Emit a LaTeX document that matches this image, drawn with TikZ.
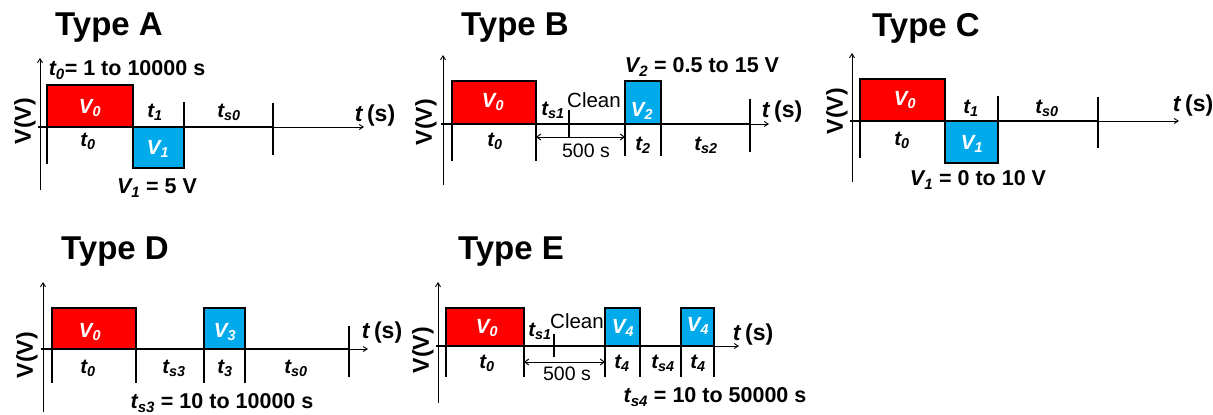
\documentclass[tikz,border=0pt]{standalone}
\usepackage{fontspec}
\setmainfont{Liberation Sans}
\usetikzlibrary{arrows.meta}
\definecolor{vred}{RGB}{255,0,0}
\definecolor{vblue}{RGB}{0,170,235}
\tikzset{
  axis/.style={line width=0.9pt,-{Straight Barb[length=4pt,width=5pt]}},
  sig/.style={line width=2.2pt,line cap=rect},
  tick/.style={line width=2pt},
  dim/.style={line width=1pt,{Straight Barb[length=4pt,width=6pt]}-{Straight Barb[length=4pt,width=6pt]}},
  title/.style={font=\fontsize{33}{36}\selectfont\bfseries},
  lab/.style={font=\fontsize{20.5}{22}\selectfont\bfseries\itshape},
  wlab/.style={lab,text=white},
  note/.style={font=\fontsize{21.5}{23}\selectfont\bfseries},
  unit/.style={font=\fontsize{23}{25}\selectfont\bfseries},
  clean/.style={font=\fontsize{20.5}{23}\selectfont,inner sep=0pt},
  dimlab/.style={font=\fontsize{19.5}{22}\selectfont},
  vaxis/.style={font=\fontsize{23}{25}\selectfont\bfseries,rotate=90},
}
\newcommand{\lsub}[1]{\textsubscript{\bfseries\itshape #1}}
\newcommand{\tunit}{\textit{t}\,(s)}
\begin{document}
\begin{tikzpicture}[x=1pt,y=-1pt]
\useasboundingbox (0,0) rectangle (1213,415);

%% ---------------- Type A ----------------
\node[title] (tA) at (109,28) {Type A};
\draw[axis] (40,190) -- (40,58);
\draw[axis] (39,127) -- (364,127);
\fill[vred] (47,85) rectangle (133,127);
\fill[vblue] (133,127) rectangle (184,168);
\draw[sig] (39,127) -- (273,127);
\draw[sig] (47,163) -- (47,85) -- (133,85) -- (133,168) -- (184,168) -- (184,103);
\draw[tick] (273,103) -- (273,155);
\node[vaxis] (vA) at (25,121) {V(V)};
\node[wlab] (a1) at (90,108) {V\lsub{0}};
\node[wlab] (a2) at (158,149) {V\lsub{1}};
\node[lab] (a3) at (155,112) {t\lsub{1}};
\node[lab] (a4) at (229,112) {t\lsub{s0}};
\node[lab] (a5) at (88,141) {t\lsub{0}};
\node[note] (a6) at (127,70) {\textit{t\lsub{0}}= 1 to 10000 s};
\node[note] (a7) at (157,188) {\textit{V\lsub{1}} = 5 V};
\node[unit] (a8) at (375,116) {\tunit};

%% ---------------- Type B ----------------
\node[title] (tB) at (515,28) {Type B};
\draw[axis] (443,185) -- (443,55);
\draw[axis] (442,124) -- (769,124);
\fill[vred] (452,81) rectangle (536,124);
\fill[vblue] (625,81) rectangle (661,124);
\draw[sig] (442,124) -- (750,124);
\draw[sig] (452,160) -- (452,81) -- (536,81) -- (536,160);
\draw[sig] (625,155) -- (625,81) -- (661,81) -- (661,155);
\draw[tick] (569,110) -- (569,137);
\draw[tick] (750,99) -- (750,152);
\coordinate (b0) at (536,137);
\coordinate (b1) at (625,137);
\draw[dim] (b0) -- (b1);
\node[vaxis] (vB) at (426,122) {V(V)};
\node[wlab] (b2) at (493,102) {V\lsub{0}};
\node[wlab] (b3) at (642,111) {V\lsub{2}};
\node[lab] (b4) at (553,110) {t\lsub{s1}};
\node[clean] (b5) at (594,100) {Clean};
\node[lab] (b6) at (495,141) {t\lsub{0}};
\node[lab] (b7) at (643,145) {t\lsub{2}};
\node[lab] (b8) at (706,145) {t\lsub{s2}};
\node[dimlab] (b9) at (586,151) {500 s};
\node[note] (b10) at (702,67) {\textit{V\lsub{2}} = 0.5 to 15 V};
\node[unit] (b11) at (782,112) {\tunit};

%% ---------------- Type C ----------------
\node[title] (tC) at (926,28) {Type C};
\draw[axis] (852,182) -- (852,53);
\draw[axis] (851,121) -- (1179,121);
\fill[vred] (860,79) rectangle (945,121);
\fill[vblue] (945,121) rectangle (998,163);
\draw[sig] (851,121) -- (1098,121);
\draw[sig] (860,157) -- (860,79) -- (945,79) -- (945,163) -- (998,163) -- (998,97);
\draw[tick] (1098,97) -- (1098,148);
\node[vaxis] (vC) at (837,111) {V(V)};
\node[wlab] (c1) at (905,100) {V\lsub{0}};
\node[wlab] (c2) at (972,144) {V\lsub{1}};
\node[lab] (c3) at (971,108) {t\lsub{1}};
\node[lab] (c4) at (1047,108) {t\lsub{s0}};
\node[lab] (c5) at (902,140) {t\lsub{0}};
\node[note] (c6) at (978,180) {\textit{V\lsub{1}} = 0 to 10 V};
\node[unit] (c7) at (1193,106) {\tunit};

%% ---------------- Type D ----------------
\node[title] (tD) at (115,252) {Type D};
\draw[axis] (43,412) -- (43,282);
\draw[axis] (42,349) -- (368,349);
\fill[vred] (52,308) rectangle (136,349);
\fill[vblue] (204,308) rectangle (245,349);
\draw[sig] (42,349) -- (349,349);
\draw[sig] (52,382) -- (52,308) -- (136,308) -- (136,382);
\draw[sig] (204,382) -- (204,308) -- (245,308) -- (245,382);
\draw[tick] (349,326) -- (349,377);
\node[vaxis] (vD) at (27,355) {V(V)};
\node[wlab] (d1) at (90,332) {V\lsub{0}};
\node[wlab] (d2) at (225,332) {V\lsub{3}};
\node[lab] (d3) at (88,368) {t\lsub{0}};
\node[lab] (d4) at (174,368) {t\lsub{s3}};
\node[lab] (d5) at (225,368) {t\lsub{3}};
\node[lab] (d6) at (296,368) {t\lsub{s0}};
\node[note] (d7) at (222,403) {\textit{t\lsub{s3}} = 10 to 10000 s};
\node[unit] (d8) at (382,333) {\tunit};

%% ---------------- Type E ----------------
\node[title] (tE) at (511,252) {Type E};
\draw[axis] (438,403) -- (438,282);
\draw[axis] (437,346) -- (739,346);
\fill[vred] (446,308) rectangle (524,346);
\fill[vblue] (605,308) rectangle (640,346);
\fill[vblue] (681,308) rectangle (714,346);
\draw[sig] (437,346) -- (714,346);
\draw[sig] (446,376) -- (446,308) -- (524,308) -- (524,376);
\draw[sig] (605,376) -- (605,308) -- (640,308) -- (640,376);
\draw[sig] (681,376) -- (681,308) -- (714,308) -- (714,376);
\draw[tick] (554,334) -- (554,357);
\coordinate (e0) at (524,362);
\coordinate (e1) at (605,362);
\draw[dim] (e0) -- (e1);
\node[vaxis] (vE) at (423,350) {V(V)};
\node[wlab] (e2) at (487,328) {V\lsub{0}};
\node[wlab] (e3) at (623,328) {V\lsub{4}};
\node[wlab] (e4) at (698,326) {V\lsub{4}};
\node[lab] (e5) at (540,331) {t\lsub{s1}};
\node[clean] (e6) at (577,321) {Clean};
\node[lab] (e7) at (487,363) {t\lsub{0}};
\node[lab] (e8) at (622,363) {t\lsub{4}};
\node[lab] (e9) at (663,363) {t\lsub{s4}};
\node[lab] (e10) at (698,363) {t\lsub{4}};
\node[dimlab] (e11) at (567,374) {500 s};
\node[note] (e12) at (715,397) {\textit{t\lsub{s4}} = 10 to 50000 s};
\node[unit] (e13) at (753,335) {\tunit};
\end{tikzpicture}
\end{document}
